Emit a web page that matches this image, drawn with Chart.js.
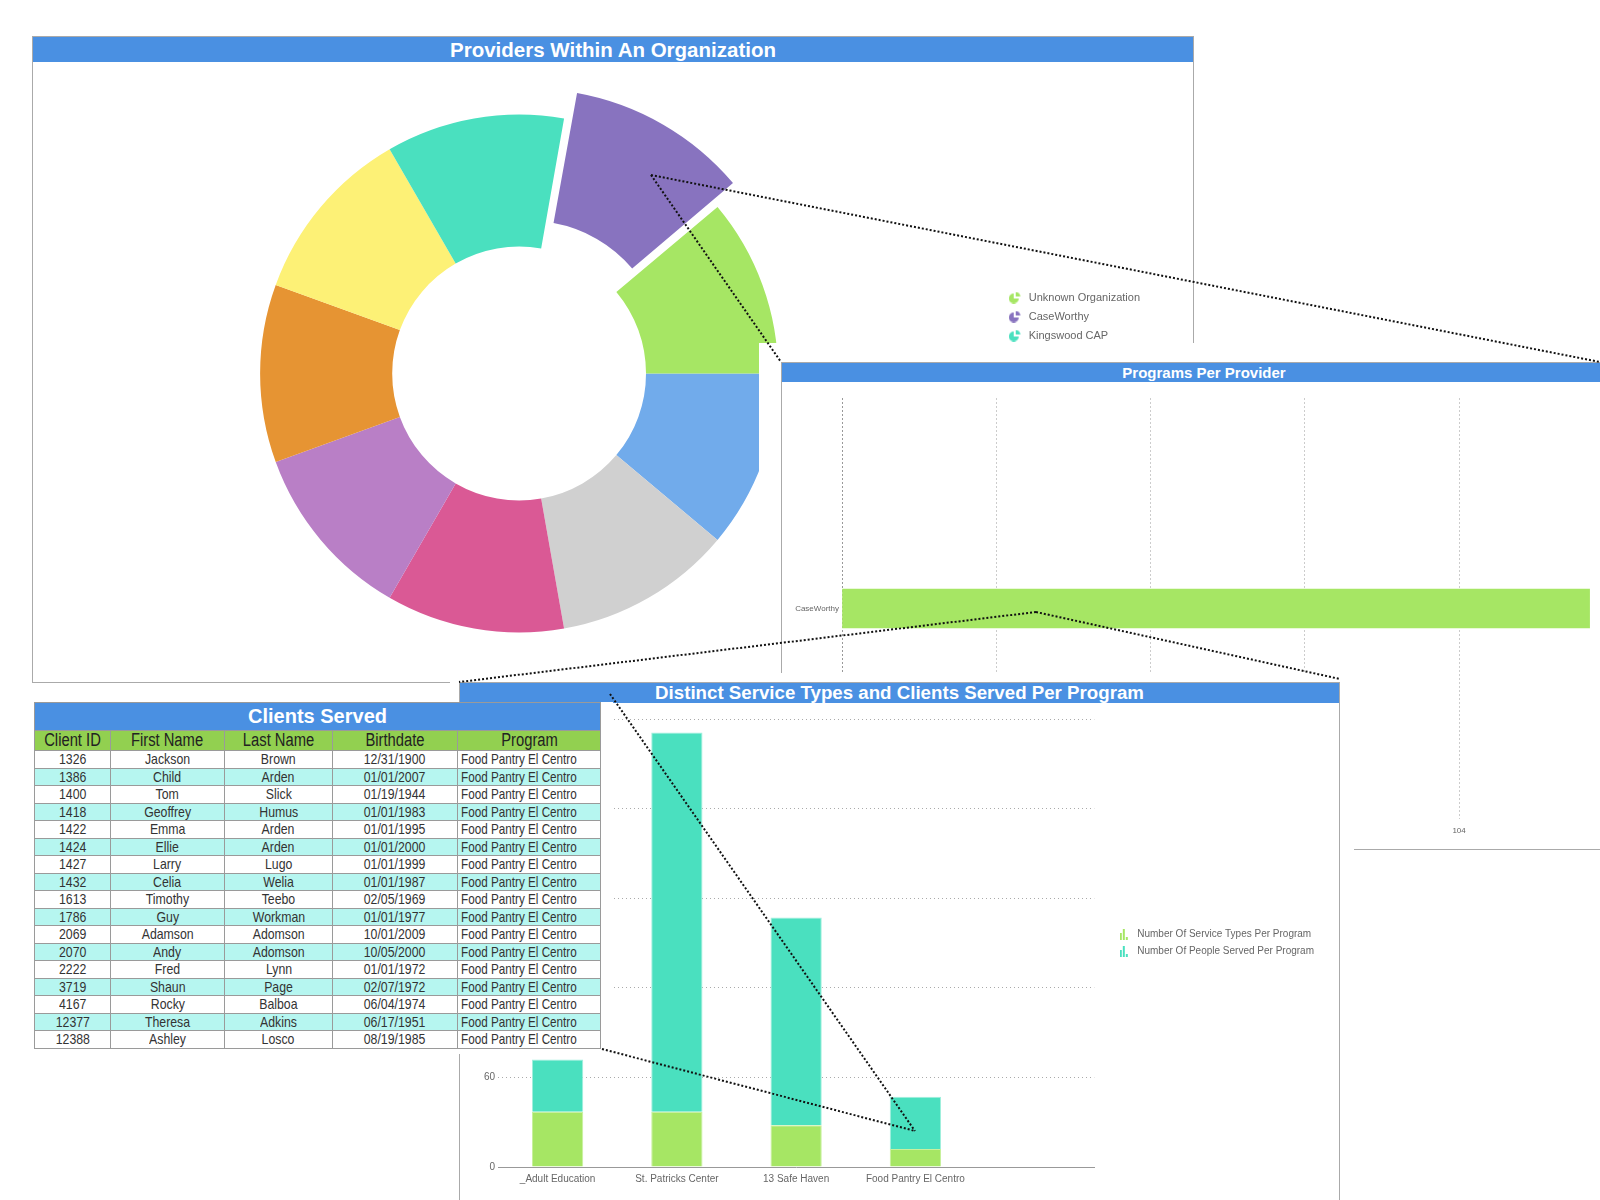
<!DOCTYPE html>
<html lang="en">
<head>
<meta charset="UTF-8">
<title>Providers Dashboard</title>
<script src="https://cdn.jsdelivr.net/npm/chart.js@4"></script>
<style>
  body { margin:0; width:1600px; height:1200px; overflow:hidden; position:relative; background:#fff; font-family:"Liberation Sans", Arial, sans-serif; }
  .wrap { position:absolute; background:#fff; }
  .panel { position:absolute; border:1px solid #aaa; background:#fff; box-sizing:border-box; }
  .ttl { background:#4a90e2; color:#fff; font-weight:bold; text-align:center; white-space:nowrap; overflow:hidden; }
  .box { position:absolute; }
  #clients { position:absolute; left:34px; top:702px; width:567px; border-collapse:collapse; table-layout:fixed; font-family:"Liberation Sans", Arial, sans-serif; }
  #clients th, #clients td { border:1px solid #9a9a9a; padding:0; white-space:nowrap; overflow:hidden; }
  #clients .head th { background:#4a90e2; color:#fff; font-weight:bold; font-size:20px; height:27px; }
  #clients .cols th { background:#92d050; color:#222; font-size:18px; font-weight:normal; height:19px; line-height:19px; }
  #clients td { font-size:15px; color:#333; text-align:center; height:16.5px; line-height:16px; }
  #clients td.prog { text-align:left; padding-left:3px; }
  #clients tbody tr:nth-child(even) td { background:#b6f6f0; }
  /* narrow face: Arial squeezed like Arial Narrow */
  #clients .n { display:inline-block; transform:scaleX(0.82); transform-origin:center; }
  #clients td.prog .n { transform:scaleX(0.78); transform-origin:left; }
  #links { position:absolute; left:0; top:0; width:1600px; height:1200px; pointer-events:none; }
  #links line { stroke:#111; stroke-width:2; stroke-dasharray:2 2; }
</style>
</head>
<body>

<div class="panel" style="left:32px; top:36px; width:1162px; height:647px;">
  <div class="ttl" style="height:25px; line-height:25px; font-size:20.5px;">Providers Within An Organization</div>
</div>
<div class="box" style="left:33px; top:61px; width:1160px; height:621px;"><canvas id="providersChart"></canvas></div>

<div class="wrap" style="left:759px; top:343px; width:900px; height:508px;"></div>
<div class="panel" style="left:781px; top:362px; width:846px; height:488px;">
  <div class="ttl" style="height:19px; line-height:19px; font-size:15px;">Programs Per Provider</div>
</div>
<div class="box" style="left:781px; top:381px; width:846px; height:468px;"><canvas id="programsChart"></canvas></div>

<div class="wrap" style="left:450px; top:673px; width:904px; height:540px;"></div>
<div class="panel" style="left:459px; top:682px; width:881px; height:540px;">
  <div class="ttl" style="height:20px; line-height:20px; font-size:18.7px;">Distinct Service Types and Clients Served Per Program</div>
</div>
<div class="box" style="left:459px; top:702px; width:881px; height:486px;"><canvas id="servicesChart"></canvas></div>

<div class="wrap" style="left:24px; top:702px; width:589px; height:352px;"></div>
<table id="clients">
  <colgroup><col style="width:76px"><col style="width:114px"><col style="width:108px"><col style="width:125px"><col style="width:143px"></colgroup>
  <thead>
    <tr class="head"><th colspan="5">Clients Served</th></tr>
    <tr class="cols"><th><span class="n">Client ID</span></th><th><span class="n">First Name</span></th><th><span class="n">Last Name</span></th><th><span class="n">Birthdate</span></th><th><span class="n">Program</span></th></tr>
  </thead>
  <tbody id="clientRows"></tbody>
</table>

<svg id="links">
  <line x1="651" y1="175" x2="1600" y2="362"/>
  <line x1="651" y1="175" x2="781" y2="362"/>
  <line x1="1036" y1="612" x2="459" y2="682"/>
  <line x1="1036" y1="612" x2="1340" y2="679"/>
  <line x1="610" y1="694" x2="915" y2="1131"/>
  <line x1="602" y1="1049" x2="915" y2="1131"/>
</svg>

<script>
// doughnut: providers (legend order); the last six names are hidden under the other panel
const providerNames = ['Unknown Organization', 'CaseWorthy', 'Kingswood CAP', '', '', '', '', '', ''];
const providerCounts = [1, 1, 1, 1, 1, 1, 1, 1, 1];
const providerColors = ['#a6e664', '#8873bf', '#4ae0bf', '#fdf176', '#e69433', '#b97fc6', '#da5995', '#d0d0d0', '#71abeb'];

// horizontal bar: programs per provider
const programProviders = ['CaseWorthy'];
const programsPerProvider = [126];

// stacked bars: per program
const programNames = ['_Adult Education', 'St. Patricks Center', '13 Safe Haven', 'Food Pantry El Centro', ''];
const serviceTypesPerProgram = [37, 37, 28, 12, null];
const peopleServedPerProgram = [35, 254, 139, 35, null];

// clients table
const clientIds = [1326, 1386, 1400, 1418, 1422, 1424, 1427, 1432, 1613, 1786, 2069, 2070, 2222, 3719, 4167, 12377, 12388];
const firstNames = ['Jackson', 'Child', 'Tom', 'Geoffrey', 'Emma', 'Ellie', 'Larry', 'Celia', 'Timothy', 'Guy', 'Adamson', 'Andy', 'Fred', 'Shaun', 'Rocky', 'Theresa', 'Ashley'];
const lastNames = ['Brown', 'Arden', 'Slick', 'Humus', 'Arden', 'Arden', 'Lugo', 'Welia', 'Teebo', 'Workman', 'Adomson', 'Adomson', 'Lynn', 'Page', 'Balboa', 'Adkins', 'Losco'];
const birthdates = ['12/31/1900', '01/01/2007', '01/19/1944', '01/01/1983', '01/01/1995', '01/01/2000', '01/01/1999', '01/01/1987', '02/05/1969', '01/01/1977', '10/01/2009', '10/05/2000', '01/01/1972', '02/07/1972', '06/04/1974', '06/17/1951', '08/19/1985'];
const clientProgram = 'Food Pantry El Centro';

const rows = document.getElementById('clientRows');
clientIds.forEach((id, i) => {
  const tr = document.createElement('tr');
  [id, firstNames[i], lastNames[i], birthdates[i], clientProgram].forEach((v, j) => {
    const td = document.createElement('td');
    const span = document.createElement('span');
    span.className = 'n';
    span.textContent = v;
    td.appendChild(span);
    if (j === 4) td.className = 'prog';
    tr.appendChild(td);
  });
  rows.appendChild(tr);
});

Chart.defaults.font.family = '"Liberation Sans", Arial, sans-serif';
Chart.defaults.color = '#666';
Chart.defaults.animation = false;

// small legend glyphs
function pieIcon(color) {
  const c = document.createElement('canvas');
  c.width = 12; c.height = 12;
  const g = c.getContext('2d');
  g.fillStyle = color;
  g.beginPath(); g.moveTo(5, 7); g.arc(5, 7, 5, 0, Math.PI * 1.5); g.closePath(); g.fill();
  g.beginPath(); g.moveTo(7, 5); g.arc(7, 5, 4.5, -Math.PI / 2, 0); g.closePath(); g.fill();
  return c;
}
function barIcon(color) {
  const c = document.createElement('canvas');
  c.width = 9; c.height = 11;
  const g = c.getContext('2d');
  g.fillStyle = color;
  g.fillRect(0, 4, 2, 7);
  g.fillRect(3, 0, 2, 11);
  g.fillRect(6, 8, 2, 3);
  return c;
}

// slices run counter-clockwise in the picture, so hand them to Chart.js reversed
const rev = a => a.slice().reverse();
new Chart(document.getElementById('providersChart'), {
  type: 'doughnut',
  data: {
    labels: rev(providerNames),
    datasets: [{
      data: rev(providerCounts),
      backgroundColor: rev(providerColors),
      borderWidth: 0,
      offset: rev(providerNames.map(n => n === 'CaseWorthy' ? 84 : 0))
    }]
  },
  options: {
    responsive: true,
    maintainAspectRatio: false,
    rotation: 90,
    cutout: '49%',
    radius: 259,
    layout: { padding: { left: 7, right: 43, top: 4 } },
    plugins: {
      tooltip: { enabled: false },
      legend: {
        position: 'right',
        reverse: true,
        labels: {
          usePointStyle: true,
          pointStyleWidth: 17,
          padding: 8,
          font: { size: 11 },
          generateLabels(chart) {
            const items = Chart.overrides.doughnut.plugins.legend.labels.generateLabels(chart);
            items.forEach(it => { it.pointStyle = pieIcon(it.fillStyle); });
            return items;
          }
        }
      }
    }
  }
});

new Chart(document.getElementById('programsChart'), {
  type: 'bar',
  data: {
    labels: programProviders,
    datasets: [{ label: 'Programs', data: programsPerProvider, backgroundColor: '#a6e664', barThickness: 39 }]
  },
  options: {
    indexAxis: 'y',
    responsive: true,
    maintainAspectRatio: false,
    layout: { padding: { top: 17, right: 13 } },
    plugins: { legend: { display: false }, tooltip: { enabled: false } },
    scales: {
      x: {
        min: 0, max: 130,
        ticks: { stepSize: 26, font: { size: 8 }, padding: 7 },
        grid: { color: c => c.tick.value === 0 ? '#999' : '#ccc', drawTicks: false },
        border: { display: false, dash: [2, 2] },
        afterFit: s => { s.height = 30; }
      },
      y: {
        grid: { display: false, drawTicks: false },
        border: { display: false },
        ticks: { font: { size: 8 }, padding: 3 },
        afterFit: s => { s.width = 61; }
      }
    }
  }
});

new Chart(document.getElementById('servicesChart'), {
  type: 'bar',
  data: {
    labels: programNames,
    datasets: [
      { label: 'Number Of Service Types Per Program', data: serviceTypesPerProgram, backgroundColor: '#a6e664', borderColor: '#c8f09e', borderWidth: 1 },
      { label: 'Number Of People Served Per Program', data: peopleServedPerProgram, backgroundColor: '#4ae0bf', borderColor: '#a2efdd', borderWidth: 1 }
    ]
  },
  options: {
    responsive: true,
    maintainAspectRatio: false,
    barPercentage: 0.43,
    categoryPercentage: 1,
    layout: { padding: { top: 17, right: 16 } },
    plugins: {
      tooltip: { enabled: false },
      legend: {
        position: 'right',
        fullSize: false,
        maxWidth: 320,
        labels: {
          usePointStyle: true,
          pointStyleWidth: 16,
          padding: 7,
          font: { size: 10 },
          generateLabels(chart) {
            const items = Chart.defaults.plugins.legend.labels.generateLabels(chart);
            items.forEach(it => { it.pointStyle = barIcon(it.fillStyle); });
            return items;
          }
        }
      }
    },
    scales: {
      x: {
        stacked: true,
        grid: { display: false, drawTicks: false },
        border: { color: '#999' },
        ticks: { font: { size: 10 }, padding: 6, maxRotation: 0, autoSkip: false },
        afterFit: s => { s.height = 21; }
      },
      y: {
        stacked: true,
        min: 0, max: 300,
        ticks: { stepSize: 60, font: { size: 10 }, padding: 3 },
        grid: { color: c => c.tick.value === 0 ? 'rgba(0,0,0,0)' : '#aaa', drawTicks: false },
        border: { display: false, dash: [1, 3] },
        afterFit: s => { s.width = 39; }
      },
      // empty strip between plot and legend
      gap: {
        position: 'right',
        grid: { display: false, drawTicks: false },
        ticks: { display: false },
        border: { display: false },
        afterFit: s => { s.width = 15; }
      }
    }
  }
});
</script>
</body>
</html>
